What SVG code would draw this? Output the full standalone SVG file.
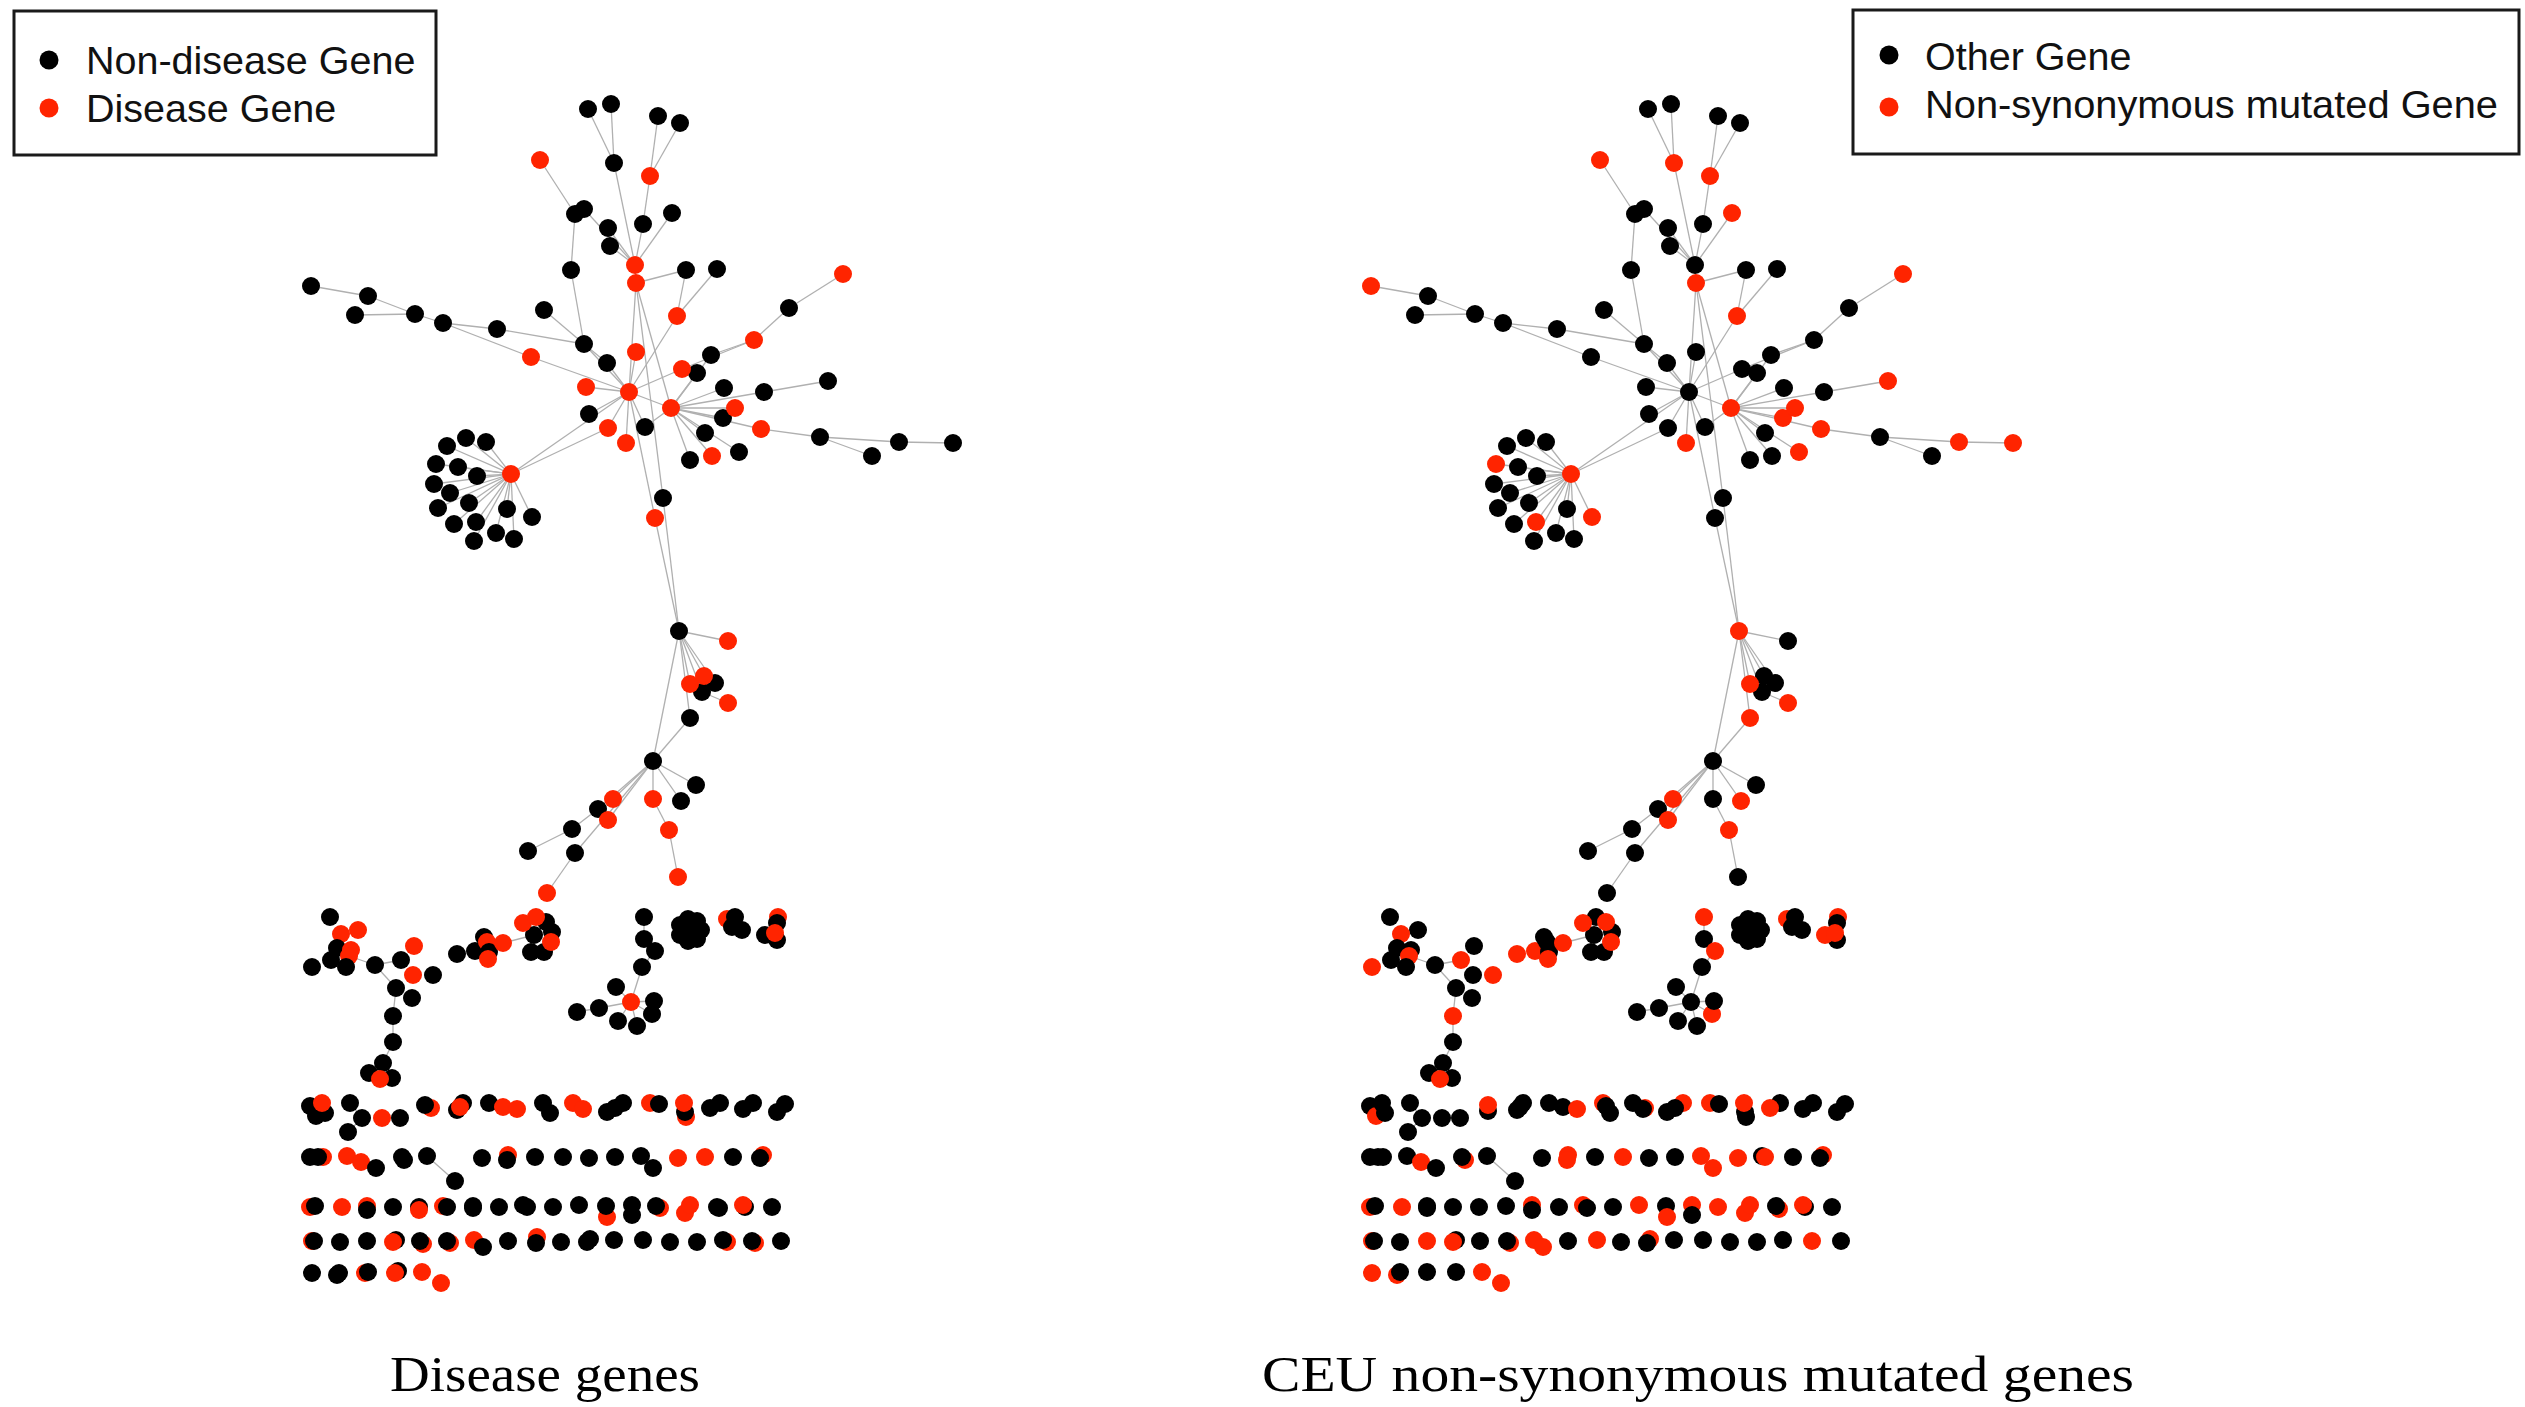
<svg xmlns="http://www.w3.org/2000/svg" xmlns:xlink="http://www.w3.org/1999/xlink" width="2525" height="1407" viewBox="0 0 2525 1407">
<style>
.b{fill:#000}
.r{fill:#ff2400}
circle{stroke:none}
#edges line{stroke:#b0b0b0;stroke-width:1.3}
.leg{fill:#fff;stroke:#1a1a1a;stroke-width:3}
.lt{font-family:"Liberation Sans",Arial,sans-serif;font-size:39.5px;fill:#111}
.cap{font-family:"Liberation Serif","DejaVu Serif",serif;font-size:50px;fill:#000}
</style>
<defs>
<g id="edges">
<line x1="588" y1="109" x2="614" y2="163"/><line x1="611" y1="104" x2="614" y2="163"/><line x1="614" y1="163" x2="635" y2="265"/>
<line x1="658" y1="116" x2="650" y2="176"/><line x1="680" y1="123" x2="650" y2="176"/><line x1="650" y1="176" x2="643" y2="224"/>
<line x1="643" y1="224" x2="635" y2="265"/><line x1="672" y1="213" x2="635" y2="265"/><line x1="540" y1="160" x2="575" y2="214"/>
<line x1="584" y1="209" x2="635" y2="265"/><line x1="608" y1="228" x2="635" y2="265"/><line x1="610" y1="246" x2="635" y2="265"/>
<line x1="575" y1="214" x2="571" y2="270"/><line x1="571" y1="270" x2="584" y2="344"/><line x1="635" y1="265" x2="636" y2="283"/>
<line x1="636" y1="283" x2="686" y2="270"/><line x1="717" y1="269" x2="677" y2="316"/><line x1="686" y1="270" x2="677" y2="316"/>
<line x1="677" y1="316" x2="629" y2="392"/><line x1="636" y1="283" x2="629" y2="392"/><line x1="636" y1="283" x2="671" y2="408"/>
<line x1="843" y1="274" x2="789" y2="308"/><line x1="789" y1="308" x2="754" y2="340"/><line x1="754" y1="340" x2="711" y2="355"/>
<line x1="711" y1="355" x2="671" y2="408"/><line x1="754" y1="340" x2="682" y2="369"/><line x1="682" y1="369" x2="629" y2="392"/>
<line x1="697" y1="373" x2="671" y2="408"/><line x1="311" y1="286" x2="368" y2="296"/><line x1="368" y1="296" x2="415" y2="314"/>
<line x1="355" y1="315" x2="415" y2="314"/><line x1="415" y1="314" x2="443" y2="323"/><line x1="443" y1="323" x2="497" y2="329"/>
<line x1="497" y1="329" x2="584" y2="344"/><line x1="443" y1="323" x2="531" y2="357"/><line x1="531" y1="357" x2="629" y2="392"/>
<line x1="544" y1="310" x2="584" y2="344"/><line x1="584" y1="344" x2="607" y2="363"/><line x1="607" y1="363" x2="629" y2="392"/>
<line x1="584" y1="344" x2="629" y2="392"/><line x1="636" y1="352" x2="629" y2="392"/><line x1="586" y1="387" x2="629" y2="392"/>
<line x1="828" y1="381" x2="764" y2="392"/><line x1="764" y1="392" x2="671" y2="408"/><line x1="724" y1="388" x2="671" y2="408"/>
<line x1="629" y1="392" x2="671" y2="408"/><line x1="671" y1="408" x2="735" y2="408"/><line x1="671" y1="408" x2="723" y2="418"/>
<line x1="671" y1="408" x2="761" y2="429"/><line x1="671" y1="408" x2="705" y2="433"/><line x1="671" y1="408" x2="739" y2="452"/>
<line x1="671" y1="408" x2="712" y2="456"/><line x1="671" y1="408" x2="690" y2="460"/><line x1="671" y1="408" x2="645" y2="427"/>
<line x1="761" y1="429" x2="820" y2="437"/><line x1="820" y1="437" x2="899" y2="442"/><line x1="899" y1="442" x2="953" y2="443"/>
<line x1="820" y1="437" x2="872" y2="456"/><line x1="629" y1="392" x2="589" y2="414"/><line x1="629" y1="392" x2="608" y2="428"/>
<line x1="629" y1="392" x2="626" y2="443"/><line x1="629" y1="392" x2="645" y2="427"/><line x1="511" y1="474" x2="629" y2="392"/>
<line x1="511" y1="474" x2="608" y2="428"/>
<line x1="511" y1="474" x2="466" y2="438"/><line x1="511" y1="474" x2="486" y2="442"/><line x1="511" y1="474" x2="447" y2="446"/>
<line x1="511" y1="474" x2="436" y2="464"/><line x1="511" y1="474" x2="458" y2="467"/><line x1="511" y1="474" x2="477" y2="476"/>
<line x1="511" y1="474" x2="434" y2="484"/><line x1="511" y1="474" x2="450" y2="493"/><line x1="511" y1="474" x2="469" y2="503"/>
<line x1="511" y1="474" x2="507" y2="509"/><line x1="511" y1="474" x2="532" y2="517"/><line x1="511" y1="474" x2="438" y2="508"/>
<line x1="511" y1="474" x2="454" y2="524"/><line x1="511" y1="474" x2="476" y2="522"/><line x1="511" y1="474" x2="496" y2="533"/>
<line x1="511" y1="474" x2="514" y2="539"/><line x1="511" y1="474" x2="474" y2="541"/>
<line x1="636" y1="283" x2="663" y2="498"/><line x1="629" y1="392" x2="655" y2="518"/>
<line x1="663" y1="498" x2="679" y2="631"/><line x1="655" y1="518" x2="679" y2="631"/>
<line x1="679" y1="631" x2="728" y2="641"/><line x1="679" y1="631" x2="690" y2="684"/><line x1="679" y1="631" x2="704" y2="676"/>
<line x1="679" y1="631" x2="715" y2="683"/><line x1="679" y1="631" x2="702" y2="692"/><line x1="702" y1="692" x2="728" y2="703"/>
<line x1="679" y1="631" x2="690" y2="718"/><line x1="690" y1="718" x2="653" y2="761"/><line x1="679" y1="631" x2="653" y2="761"/>
<line x1="653" y1="761" x2="696" y2="785"/><line x1="653" y1="761" x2="681" y2="801"/><line x1="653" y1="761" x2="653" y2="799"/>
<line x1="653" y1="761" x2="613" y2="799"/><line x1="653" y1="761" x2="598" y2="809"/><line x1="653" y1="761" x2="608" y2="820"/>
<line x1="653" y1="761" x2="575" y2="853"/><line x1="598" y1="809" x2="572" y2="829"/><line x1="572" y1="829" x2="528" y2="851"/>
<line x1="575" y1="853" x2="547" y2="893"/><line x1="653" y1="799" x2="669" y2="830"/><line x1="669" y1="830" x2="678" y2="877"/>
<line x1="503" y1="943" x2="534" y2="935"/>
<line x1="349" y1="956" x2="375" y2="965"/><line x1="375" y1="965" x2="401" y2="960"/><line x1="375" y1="965" x2="396" y2="988"/>
<line x1="396" y1="988" x2="412" y2="998"/><line x1="396" y1="988" x2="393" y2="1016"/><line x1="393" y1="1016" x2="393" y2="1042"/>
<line x1="393" y1="1042" x2="383" y2="1063"/>
<line x1="644" y1="917" x2="644" y2="939"/><line x1="644" y1="939" x2="655" y2="951"/><line x1="655" y1="951" x2="642" y2="967"/>
<line x1="642" y1="967" x2="631" y2="1002"/><line x1="631" y1="1002" x2="616" y2="987"/><line x1="631" y1="1002" x2="599" y2="1008"/>
<line x1="599" y1="1008" x2="577" y2="1012"/><line x1="631" y1="1002" x2="654" y2="1001"/><line x1="631" y1="1002" x2="652" y2="1014"/>
<line x1="631" y1="1002" x2="618" y2="1021"/><line x1="631" y1="1002" x2="637" y2="1026"/>
<line x1="350" y1="1103" x2="362" y2="1118"/><line x1="362" y1="1118" x2="348" y2="1132"/><line x1="427" y1="1156" x2="455" y2="1181"/>
</g>
</defs>

<g id="connectors">
<use xlink:href="#edges" href="#edges"/>
<use xlink:href="#edges" href="#edges" x="1060"/>
</g>

<g id="legend-left">
<rect class="leg" x="14" y="11" width="422" height="144"/>
<circle class="b" cx="49" cy="60" r="9.5"/>
<text class="lt" x="86" y="74">Non-disease Gene</text>
<circle class="r" cx="49" cy="108" r="9.5"/>
<text class="lt" x="86" y="122">Disease Gene</text>
</g>

<g id="legend-right">
<rect class="leg" x="1853" y="10" width="666" height="144"/>
<circle class="b" cx="1889" cy="55" r="9.5"/>
<text class="lt" x="1925" y="70">Other Gene</text>
<circle class="r" cx="1889" cy="107" r="9.5"/>
<text class="lt" x="1925" y="118" textLength="573" lengthAdjust="spacingAndGlyphs">Non-synonymous mutated Gene</text>
</g>

<g id="nodes-left">
<g id="L-top">
<circle class="b" cx="588" cy="109" r="9"/><circle class="b" cx="611" cy="104" r="9"/><circle class="b" cx="658" cy="116" r="9"/><circle class="b" cx="680" cy="123" r="9"/>
<circle class="r" cx="540" cy="160" r="9"/><circle class="b" cx="614" cy="163" r="9"/><circle class="r" cx="650" cy="176" r="9"/>
<circle class="b" cx="575" cy="214" r="9"/><circle class="b" cx="584" cy="209" r="9"/><circle class="b" cx="672" cy="213" r="9"/>
<circle class="b" cx="608" cy="228" r="9"/><circle class="b" cx="643" cy="224" r="9"/><circle class="b" cx="610" cy="246" r="9"/>
<circle class="r" cx="635" cy="265" r="9"/><circle class="r" cx="636" cy="283" r="9"/><circle class="b" cx="571" cy="270" r="9"/>
<circle class="b" cx="686" cy="270" r="9"/><circle class="b" cx="717" cy="269" r="9"/><circle class="r" cx="843" cy="274" r="9"/>
<circle class="b" cx="311" cy="286" r="9"/><circle class="b" cx="368" cy="296" r="9"/><circle class="b" cx="355" cy="315" r="9"/>
<circle class="b" cx="415" cy="314" r="9"/><circle class="b" cx="443" cy="323" r="9"/><circle class="b" cx="497" cy="329" r="9"/>
<circle class="b" cx="544" cy="310" r="9"/><circle class="r" cx="677" cy="316" r="9"/><circle class="b" cx="789" cy="308" r="9"/>
<circle class="r" cx="754" cy="340" r="9"/><circle class="b" cx="584" cy="344" r="9"/><circle class="r" cx="636" cy="352" r="9"/>
<circle class="r" cx="531" cy="357" r="9"/><circle class="b" cx="607" cy="363" r="9"/><circle class="b" cx="711" cy="355" r="9"/>
<circle class="b" cx="697" cy="373" r="9"/><circle class="r" cx="682" cy="369" r="9"/><circle class="b" cx="828" cy="381" r="9"/>
<circle class="r" cx="586" cy="387" r="9"/><circle class="r" cx="629" cy="392" r="9"/><circle class="b" cx="724" cy="388" r="9"/>
<circle class="b" cx="764" cy="392" r="9"/><circle class="r" cx="671" cy="408" r="9"/><circle class="b" cx="723" cy="418" r="9"/>
<circle class="r" cx="735" cy="408" r="9"/><circle class="b" cx="589" cy="414" r="9"/><circle class="r" cx="608" cy="428" r="9"/>
<circle class="b" cx="645" cy="427" r="9"/><circle class="r" cx="761" cy="429" r="9"/><circle class="b" cx="820" cy="437" r="9"/>
<circle class="b" cx="899" cy="442" r="9"/><circle class="b" cx="953" cy="443" r="9"/><circle class="b" cx="872" cy="456" r="9"/>
<circle class="r" cx="626" cy="443" r="9"/><circle class="b" cx="705" cy="433" r="9"/><circle class="b" cx="739" cy="452" r="9"/>
<circle class="r" cx="712" cy="456" r="9"/><circle class="b" cx="690" cy="460" r="9"/>
<circle class="b" cx="466" cy="438" r="9"/><circle class="b" cx="486" cy="442" r="9"/><circle class="b" cx="447" cy="446" r="9"/>
<circle class="b" cx="436" cy="464" r="9"/><circle class="b" cx="458" cy="467" r="9"/><circle class="b" cx="477" cy="476" r="9"/>
<circle class="b" cx="434" cy="484" r="9"/><circle class="b" cx="450" cy="493" r="9"/><circle class="b" cx="469" cy="503" r="9"/>
<circle class="b" cx="507" cy="509" r="9"/><circle class="b" cx="532" cy="517" r="9"/><circle class="b" cx="438" cy="508" r="9"/>
<circle class="b" cx="454" cy="524" r="9"/><circle class="b" cx="476" cy="522" r="9"/><circle class="b" cx="496" cy="533" r="9"/>
<circle class="b" cx="514" cy="539" r="9"/><circle class="b" cx="474" cy="541" r="9"/><circle class="r" cx="511" cy="474" r="9"/>
<circle class="b" cx="663" cy="498" r="9"/><circle class="r" cx="655" cy="518" r="9"/>
</g>
<g id="L-mid">
<circle class="b" cx="679" cy="631" r="9"/><circle class="r" cx="728" cy="641" r="9"/><circle class="b" cx="715" cy="683" r="9"/>
<circle class="b" cx="702" cy="692" r="9"/><circle class="r" cx="690" cy="684" r="9"/><circle class="r" cx="704" cy="676" r="9"/>
<circle class="r" cx="728" cy="703" r="9"/><circle class="b" cx="690" cy="718" r="9"/><circle class="b" cx="653" cy="761" r="9"/>
<circle class="b" cx="696" cy="785" r="9"/><circle class="b" cx="681" cy="801" r="9"/><circle class="r" cx="653" cy="799" r="9"/>
<circle class="r" cx="613" cy="799" r="9"/><circle class="b" cx="598" cy="809" r="9"/><circle class="r" cx="608" cy="820" r="9"/>
<circle class="b" cx="572" cy="829" r="9"/><circle class="b" cx="528" cy="851" r="9"/><circle class="b" cx="575" cy="853" r="9"/>
<circle class="r" cx="669" cy="830" r="9"/><circle class="r" cx="678" cy="877" r="9"/><circle class="r" cx="547" cy="893" r="9"/>
</g>
<g id="L-low">
<circle class="b" cx="330" cy="917" r="9"/><circle class="r" cx="341" cy="934" r="9"/><circle class="r" cx="358" cy="930" r="9"/>
<circle class="b" cx="337" cy="948" r="9"/><circle class="b" cx="331" cy="960" r="9"/><circle class="r" cx="351" cy="950" r="9"/>
<circle class="r" cx="349" cy="956" r="9"/><circle class="b" cx="312" cy="967" r="9"/><circle class="b" cx="346" cy="967" r="9"/>
<circle class="b" cx="375" cy="965" r="9"/><circle class="b" cx="401" cy="960" r="9"/><circle class="r" cx="414" cy="946" r="9"/>
<circle class="r" cx="413" cy="975" r="9"/><circle class="b" cx="433" cy="975" r="9"/><circle class="b" cx="396" cy="988" r="9"/>
<circle class="b" cx="412" cy="998" r="9"/><circle class="b" cx="393" cy="1016" r="9"/><circle class="b" cx="393" cy="1042" r="9"/>
<circle class="b" cx="383" cy="1063" r="9"/><circle class="b" cx="369" cy="1073" r="9"/><circle class="b" cx="392" cy="1078" r="9"/>
<circle class="r" cx="380" cy="1079" r="9"/>
<circle class="b" cx="457" cy="954" r="9"/><circle class="b" cx="475" cy="951" r="9"/><circle class="b" cx="484" cy="937" r="9"/>
<circle class="r" cx="487" cy="942" r="9"/><circle class="b" cx="489" cy="952" r="9"/><circle class="r" cx="488" cy="959" r="9"/>
<circle class="r" cx="503" cy="943" r="9"/><circle class="b" cx="546" cy="922" r="9"/><circle class="b" cx="552" cy="932" r="9"/>
<circle class="b" cx="534" cy="935" r="9"/><circle class="b" cx="531" cy="952" r="9"/><circle class="b" cx="544" cy="952" r="9"/>
<circle class="r" cx="551" cy="942" r="9"/><circle class="r" cx="523" cy="923" r="9"/><circle class="r" cx="536" cy="917" r="9"/>
<circle class="b" cx="644" cy="917" r="9"/><circle class="b" cx="644" cy="939" r="9"/><circle class="b" cx="655" cy="951" r="9"/>
<circle class="b" cx="642" cy="967" r="9"/><circle class="b" cx="616" cy="987" r="9"/><circle class="b" cx="599" cy="1008" r="9"/>
<circle class="b" cx="577" cy="1012" r="9"/><circle class="b" cx="654" cy="1001" r="9"/><circle class="b" cx="652" cy="1014" r="9"/>
<circle class="b" cx="618" cy="1021" r="9"/><circle class="b" cx="637" cy="1026" r="9"/><circle class="r" cx="631" cy="1002" r="9"/>
<circle class="b" cx="690" cy="930" r="9"/><circle class="b" cx="701" cy="930" r="9"/><circle class="b" cx="697" cy="939" r="9"/>
<circle class="b" cx="688" cy="941" r="9"/><circle class="b" cx="680" cy="935" r="9"/><circle class="b" cx="680" cy="925" r="9"/>
<circle class="b" cx="688" cy="919" r="9"/><circle class="b" cx="697" cy="921" r="9"/>
<circle class="r" cx="727" cy="919" r="9"/><circle class="b" cx="735" cy="917" r="9"/><circle class="b" cx="732" cy="927" r="9"/><circle class="b" cx="742" cy="930" r="9"/>
<circle class="r" cx="778" cy="917" r="9"/><circle class="b" cx="777" cy="923" r="9"/><circle class="b" cx="777" cy="940" r="9"/><circle class="b" cx="765" cy="935" r="9"/><circle class="r" cx="775" cy="933" r="9"/>
</g>
<g id="L-rows">
<circle class="b" cx="310" cy="1106" r="9"/><circle class="b" cx="316" cy="1116" r="9"/><circle class="b" cx="325" cy="1113" r="9"/><circle class="r" cx="322" cy="1103" r="9"/>
<circle class="b" cx="350" cy="1103" r="9"/><circle class="b" cx="362" cy="1118" r="9"/><circle class="b" cx="348" cy="1132" r="9"/>
<circle class="r" cx="382" cy="1118" r="9"/><circle class="b" cx="400" cy="1118" r="9"/>
<circle class="r" cx="431" cy="1108" r="9"/><circle class="b" cx="425" cy="1105" r="9"/>
<circle class="b" cx="457" cy="1110" r="9"/><circle class="b" cx="463" cy="1103" r="9"/><circle class="r" cx="460" cy="1107" r="9"/>
<circle class="b" cx="489" cy="1103" r="9"/><circle class="r" cx="503" cy="1107" r="9"/><circle class="r" cx="517" cy="1109" r="9"/>
<circle class="b" cx="543" cy="1103" r="9"/><circle class="b" cx="550" cy="1113" r="9"/>
<circle class="r" cx="573" cy="1103" r="9"/><circle class="r" cx="583" cy="1109" r="9"/>
<circle class="b" cx="607" cy="1112" r="9"/><circle class="b" cx="615" cy="1108" r="9"/><circle class="b" cx="623" cy="1103" r="9"/>
<circle class="r" cx="650" cy="1103" r="9"/><circle class="b" cx="659" cy="1104" r="9"/>
<circle class="r" cx="686" cy="1117" r="9"/><circle class="b" cx="685" cy="1112" r="9"/><circle class="r" cx="684" cy="1103" r="9"/>
<circle class="b" cx="710" cy="1108" r="9"/><circle class="b" cx="720" cy="1103" r="9"/>
<circle class="b" cx="743" cy="1109" r="9"/><circle class="b" cx="753" cy="1103" r="9"/>
<circle class="b" cx="777" cy="1112" r="9"/><circle class="b" cx="785" cy="1104" r="9"/>

<circle class="r" cx="323" cy="1157" r="9"/><circle class="b" cx="310" cy="1157" r="9"/><circle class="b" cx="318" cy="1157" r="9"/>
<circle class="r" cx="347" cy="1156" r="9"/><circle class="r" cx="361" cy="1162" r="9"/><circle class="b" cx="376" cy="1168" r="9"/>
<circle class="b" cx="404" cy="1160" r="9"/><circle class="b" cx="402" cy="1157" r="9"/><circle class="b" cx="427" cy="1156" r="9"/>
<circle class="b" cx="455" cy="1181" r="9"/><circle class="b" cx="482" cy="1158" r="9"/>
<circle class="r" cx="508" cy="1155" r="9"/><circle class="b" cx="507" cy="1160" r="9"/>
<circle class="b" cx="535" cy="1157" r="9"/><circle class="b" cx="563" cy="1157" r="9"/><circle class="b" cx="589" cy="1158" r="9"/>
<circle class="b" cx="615" cy="1157" r="9"/><circle class="b" cx="641" cy="1156" r="9"/><circle class="b" cx="653" cy="1168" r="9"/>
<circle class="r" cx="678" cy="1158" r="9"/><circle class="r" cx="705" cy="1157" r="9"/><circle class="b" cx="733" cy="1157" r="9"/>
<circle class="r" cx="763" cy="1155" r="9"/><circle class="b" cx="760" cy="1158" r="9"/>

<circle class="r" cx="310" cy="1207" r="9"/><circle class="b" cx="315" cy="1206" r="9"/>
<circle class="r" cx="342" cy="1207" r="9"/>
<circle class="r" cx="367" cy="1206" r="9"/><circle class="b" cx="367" cy="1210" r="9"/>
<circle class="b" cx="393" cy="1207" r="9"/>
<circle class="b" cx="419" cy="1207" r="9"/><circle class="r" cx="419" cy="1210" r="9"/>
<circle class="r" cx="443" cy="1206" r="9"/><circle class="b" cx="447" cy="1207" r="9"/>
<circle class="b" cx="473" cy="1206" r="9"/><circle class="b" cx="473" cy="1208" r="9"/>
<circle class="b" cx="499" cy="1207" r="9"/><circle class="b" cx="523" cy="1205" r="9"/><circle class="b" cx="527" cy="1207" r="9"/>
<circle class="b" cx="553" cy="1207" r="9"/><circle class="b" cx="579" cy="1205" r="9"/>
<circle class="r" cx="607" cy="1217" r="9"/><circle class="b" cx="606" cy="1206" r="9"/>
<circle class="b" cx="632" cy="1205" r="9"/><circle class="b" cx="632" cy="1215" r="9"/>
<circle class="r" cx="660" cy="1208" r="9"/><circle class="b" cx="656" cy="1206" r="9"/>
<circle class="r" cx="685" cy="1213" r="9"/><circle class="r" cx="690" cy="1205" r="9"/>
<circle class="b" cx="719" cy="1208" r="9"/><circle class="b" cx="717" cy="1207" r="9"/>
<circle class="b" cx="745" cy="1207" r="9"/><circle class="r" cx="743" cy="1205" r="9"/>
<circle class="b" cx="772" cy="1207" r="9"/>

<circle class="r" cx="312" cy="1241" r="9"/><circle class="b" cx="314" cy="1241" r="9"/>
<circle class="b" cx="340" cy="1242" r="9"/><circle class="b" cx="367" cy="1241" r="9"/>
<circle class="b" cx="396" cy="1240" r="9"/><circle class="r" cx="393" cy="1242" r="9"/>
<circle class="r" cx="423" cy="1244" r="9"/><circle class="b" cx="420" cy="1241" r="9"/>
<circle class="r" cx="450" cy="1243" r="9"/><circle class="b" cx="447" cy="1241" r="9"/>
<circle class="r" cx="474" cy="1240" r="9"/><circle class="b" cx="483" cy="1247" r="9"/>
<circle class="b" cx="508" cy="1241" r="9"/>
<circle class="r" cx="537" cy="1237" r="9"/><circle class="b" cx="536" cy="1243" r="9"/>
<circle class="b" cx="561" cy="1242" r="9"/><circle class="b" cx="590" cy="1239" r="9"/><circle class="b" cx="587" cy="1242" r="9"/>
<circle class="b" cx="614" cy="1240" r="9"/><circle class="b" cx="643" cy="1240" r="9"/><circle class="b" cx="670" cy="1242" r="9"/>
<circle class="b" cx="697" cy="1242" r="9"/>
<circle class="r" cx="727" cy="1242" r="9"/><circle class="b" cx="723" cy="1240" r="9"/>
<circle class="r" cx="755" cy="1243" r="9"/><circle class="b" cx="752" cy="1241" r="9"/>
<circle class="b" cx="781" cy="1241" r="9"/>

<circle class="b" cx="312" cy="1273" r="9"/><circle class="b" cx="337" cy="1275" r="9"/><circle class="b" cx="339" cy="1273" r="9"/>
<circle class="r" cx="365" cy="1273" r="9"/><circle class="b" cx="368" cy="1272" r="9"/>
<circle class="b" cx="398" cy="1271" r="9"/><circle class="r" cx="395" cy="1273" r="9"/>
<circle class="r" cx="422" cy="1272" r="9"/><circle class="r" cx="441" cy="1283" r="9"/>
</g>
</g>

<g id="nodes-right" transform="translate(1060 0)">
<g id="R-top">
<circle class="b" cx="588" cy="109" r="9"/><circle class="b" cx="611" cy="104" r="9"/><circle class="b" cx="658" cy="116" r="9"/><circle class="b" cx="680" cy="123" r="9"/>
<circle class="r" cx="540" cy="160" r="9"/><circle class="r" cx="614" cy="163" r="9"/><circle class="r" cx="650" cy="176" r="9"/>
<circle class="b" cx="575" cy="214" r="9"/><circle class="b" cx="584" cy="209" r="9"/><circle class="r" cx="672" cy="213" r="9"/>
<circle class="b" cx="608" cy="228" r="9"/><circle class="b" cx="643" cy="224" r="9"/><circle class="b" cx="610" cy="246" r="9"/>
<circle class="b" cx="635" cy="265" r="9"/><circle class="r" cx="636" cy="283" r="9"/><circle class="b" cx="571" cy="270" r="9"/>
<circle class="b" cx="686" cy="270" r="9"/><circle class="b" cx="717" cy="269" r="9"/><circle class="r" cx="843" cy="274" r="9"/>
<circle class="r" cx="311" cy="286" r="9"/><circle class="b" cx="368" cy="296" r="9"/><circle class="b" cx="355" cy="315" r="9"/>
<circle class="b" cx="415" cy="314" r="9"/><circle class="b" cx="443" cy="323" r="9"/><circle class="b" cx="497" cy="329" r="9"/>
<circle class="b" cx="544" cy="310" r="9"/><circle class="r" cx="677" cy="316" r="9"/><circle class="b" cx="789" cy="308" r="9"/>
<circle class="b" cx="754" cy="340" r="9"/><circle class="b" cx="584" cy="344" r="9"/><circle class="b" cx="636" cy="352" r="9"/>
<circle class="b" cx="531" cy="357" r="9"/><circle class="b" cx="607" cy="363" r="9"/><circle class="b" cx="711" cy="355" r="9"/>
<circle class="b" cx="697" cy="373" r="9"/><circle class="b" cx="682" cy="369" r="9"/><circle class="r" cx="828" cy="381" r="9"/>
<circle class="b" cx="586" cy="387" r="9"/><circle class="b" cx="629" cy="392" r="9"/><circle class="b" cx="724" cy="388" r="9"/>
<circle class="b" cx="764" cy="392" r="9"/><circle class="r" cx="671" cy="408" r="9"/><circle class="r" cx="723" cy="418" r="9"/>
<circle class="r" cx="735" cy="408" r="9"/><circle class="b" cx="589" cy="414" r="9"/><circle class="b" cx="608" cy="428" r="9"/>
<circle class="b" cx="645" cy="427" r="9"/><circle class="r" cx="761" cy="429" r="9"/><circle class="b" cx="820" cy="437" r="9"/>
<circle class="r" cx="899" cy="442" r="9"/><circle class="r" cx="953" cy="443" r="9"/><circle class="b" cx="872" cy="456" r="9"/>
<circle class="r" cx="626" cy="443" r="9"/><circle class="b" cx="705" cy="433" r="9"/><circle class="r" cx="739" cy="452" r="9"/>
<circle class="b" cx="712" cy="456" r="9"/><circle class="b" cx="690" cy="460" r="9"/>
<circle class="b" cx="466" cy="438" r="9"/><circle class="b" cx="486" cy="442" r="9"/><circle class="b" cx="447" cy="446" r="9"/>
<circle class="r" cx="436" cy="464" r="9"/><circle class="b" cx="458" cy="467" r="9"/><circle class="b" cx="477" cy="476" r="9"/>
<circle class="b" cx="434" cy="484" r="9"/><circle class="b" cx="450" cy="493" r="9"/><circle class="b" cx="469" cy="503" r="9"/>
<circle class="b" cx="507" cy="509" r="9"/><circle class="r" cx="532" cy="517" r="9"/><circle class="b" cx="438" cy="508" r="9"/>
<circle class="b" cx="454" cy="524" r="9"/><circle class="r" cx="476" cy="522" r="9"/><circle class="b" cx="496" cy="533" r="9"/>
<circle class="b" cx="514" cy="539" r="9"/><circle class="b" cx="474" cy="541" r="9"/><circle class="r" cx="511" cy="474" r="9"/>
<circle class="b" cx="663" cy="498" r="9"/><circle class="b" cx="655" cy="518" r="9"/>
</g>
<g id="R-mid">
<circle class="r" cx="679" cy="631" r="9"/><circle class="b" cx="728" cy="641" r="9"/><circle class="b" cx="715" cy="683" r="9"/>
<circle class="b" cx="702" cy="692" r="9"/><circle class="b" cx="704" cy="676" r="9"/><circle class="r" cx="690" cy="684" r="9"/>
<circle class="r" cx="728" cy="703" r="9"/><circle class="r" cx="690" cy="718" r="9"/><circle class="b" cx="653" cy="761" r="9"/>
<circle class="b" cx="696" cy="785" r="9"/><circle class="r" cx="681" cy="801" r="9"/><circle class="b" cx="653" cy="799" r="9"/>
<circle class="r" cx="613" cy="799" r="9"/><circle class="b" cx="598" cy="809" r="9"/><circle class="r" cx="608" cy="820" r="9"/>
<circle class="b" cx="572" cy="829" r="9"/><circle class="b" cx="528" cy="851" r="9"/><circle class="b" cx="575" cy="853" r="9"/>
<circle class="r" cx="669" cy="830" r="9"/><circle class="b" cx="678" cy="877" r="9"/><circle class="b" cx="547" cy="893" r="9"/>
</g>
<g id="R-low">
<circle class="b" cx="330" cy="917" r="9"/><circle class="b" cx="358" cy="930" r="9"/><circle class="r" cx="341" cy="934" r="9"/>
<circle class="b" cx="337" cy="948" r="9"/><circle class="b" cx="331" cy="960" r="9"/><circle class="b" cx="351" cy="950" r="9"/>
<circle class="r" cx="349" cy="956" r="9"/><circle class="r" cx="312" cy="967" r="9"/><circle class="b" cx="346" cy="967" r="9"/>
<circle class="b" cx="375" cy="965" r="9"/><circle class="r" cx="401" cy="960" r="9"/><circle class="b" cx="414" cy="946" r="9"/>
<circle class="b" cx="413" cy="975" r="9"/><circle class="r" cx="433" cy="975" r="9"/><circle class="b" cx="396" cy="988" r="9"/>
<circle class="b" cx="412" cy="998" r="9"/><circle class="r" cx="393" cy="1016" r="9"/><circle class="b" cx="393" cy="1042" r="9"/>
<circle class="b" cx="383" cy="1063" r="9"/><circle class="b" cx="369" cy="1073" r="9"/><circle class="b" cx="392" cy="1078" r="9"/>
<circle class="r" cx="380" cy="1079" r="9"/>
<circle class="r" cx="457" cy="954" r="9"/><circle class="r" cx="475" cy="951" r="9"/><circle class="b" cx="484" cy="937" r="9"/>
<circle class="b" cx="487" cy="942" r="9"/><circle class="b" cx="489" cy="952" r="9"/><circle class="r" cx="488" cy="959" r="9"/>
<circle class="r" cx="503" cy="943" r="9"/><circle class="b" cx="552" cy="932" r="9"/>
<circle class="b" cx="534" cy="935" r="9"/><circle class="b" cx="531" cy="952" r="9"/><circle class="b" cx="544" cy="952" r="9"/>
<circle class="r" cx="551" cy="942" r="9"/><circle class="b" cx="536" cy="917" r="9"/><circle class="r" cx="523" cy="923" r="9"/><circle class="r" cx="546" cy="922" r="9"/>
<circle class="r" cx="644" cy="917" r="9"/><circle class="b" cx="644" cy="939" r="9"/><circle class="r" cx="655" cy="951" r="9"/>
<circle class="b" cx="642" cy="967" r="9"/><circle class="b" cx="616" cy="987" r="9"/><circle class="b" cx="599" cy="1008" r="9"/>
<circle class="b" cx="577" cy="1012" r="9"/><circle class="r" cx="652" cy="1014" r="9"/><circle class="b" cx="654" cy="1001" r="9"/>
<circle class="b" cx="618" cy="1021" r="9"/><circle class="b" cx="637" cy="1026" r="9"/><circle class="b" cx="631" cy="1002" r="9"/>
<circle class="b" cx="690" cy="930" r="9"/><circle class="b" cx="701" cy="930" r="9"/><circle class="b" cx="697" cy="939" r="9"/>
<circle class="b" cx="688" cy="941" r="9"/><circle class="b" cx="680" cy="935" r="9"/><circle class="b" cx="680" cy="925" r="9"/>
<circle class="b" cx="688" cy="919" r="9"/><circle class="b" cx="697" cy="921" r="9"/>
<circle class="r" cx="727" cy="919" r="9"/><circle class="b" cx="735" cy="917" r="9"/><circle class="b" cx="732" cy="927" r="9"/><circle class="b" cx="742" cy="930" r="9"/>
<circle class="b" cx="777" cy="940" r="9"/><circle class="r" cx="778" cy="917" r="9"/><circle class="b" cx="777" cy="923" r="9"/><circle class="r" cx="765" cy="935" r="9"/><circle class="r" cx="775" cy="933" r="9"/>
</g>
<g id="R-rows">
<circle class="b" cx="310" cy="1106" r="9"/><circle class="r" cx="316" cy="1116" r="9"/><circle class="b" cx="325" cy="1113" r="9"/><circle class="b" cx="322" cy="1103" r="9"/>
<circle class="b" cx="350" cy="1103" r="9"/><circle class="b" cx="362" cy="1118" r="9"/><circle class="b" cx="348" cy="1132" r="9"/>
<circle class="b" cx="382" cy="1118" r="9"/><circle class="b" cx="400" cy="1118" r="9"/>
<circle class="b" cx="428" cy="1111" r="9"/><circle class="r" cx="428" cy="1105" r="9"/>
<circle class="b" cx="457" cy="1110" r="9"/><circle class="b" cx="463" cy="1103" r="9"/><circle class="b" cx="460" cy="1107" r="9"/>
<circle class="b" cx="489" cy="1103" r="9"/><circle class="b" cx="503" cy="1107" r="9"/><circle class="r" cx="517" cy="1109" r="9"/>
<circle class="r" cx="543" cy="1103" r="9"/><circle class="b" cx="546" cy="1106" r="9"/><circle class="b" cx="550" cy="1113" r="9"/>
<circle class="r" cx="585" cy="1108" r="9"/><circle class="b" cx="573" cy="1103" r="9"/><circle class="b" cx="583" cy="1109" r="9"/>
<circle class="r" cx="623" cy="1103" r="9"/><circle class="b" cx="607" cy="1112" r="9"/><circle class="b" cx="615" cy="1108" r="9"/>
<circle class="r" cx="650" cy="1103" r="9"/><circle class="b" cx="659" cy="1104" r="9"/>
<circle class="b" cx="686" cy="1117" r="9"/><circle class="b" cx="685" cy="1112" r="9"/><circle class="r" cx="684" cy="1103" r="9"/>
<circle class="b" cx="720" cy="1103" r="9"/><circle class="r" cx="710" cy="1108" r="9"/>
<circle class="b" cx="743" cy="1109" r="9"/><circle class="b" cx="753" cy="1103" r="9"/>
<circle class="b" cx="777" cy="1112" r="9"/><circle class="b" cx="785" cy="1104" r="9"/>

<circle class="b" cx="323" cy="1157" r="9"/><circle class="b" cx="310" cy="1157" r="9"/><circle class="b" cx="318" cy="1157" r="9"/>
<circle class="b" cx="347" cy="1156" r="9"/><circle class="r" cx="361" cy="1162" r="9"/><circle class="b" cx="376" cy="1168" r="9"/>
<circle class="r" cx="405" cy="1160" r="9"/><circle class="b" cx="402" cy="1157" r="9"/><circle class="b" cx="427" cy="1156" r="9"/>
<circle class="b" cx="455" cy="1181" r="9"/><circle class="b" cx="482" cy="1158" r="9"/>
<circle class="r" cx="508" cy="1155" r="9"/><circle class="r" cx="507" cy="1160" r="9"/>
<circle class="b" cx="535" cy="1157" r="9"/><circle class="r" cx="563" cy="1157" r="9"/><circle class="b" cx="589" cy="1158" r="9"/>
<circle class="b" cx="615" cy="1157" r="9"/><circle class="r" cx="641" cy="1156" r="9"/><circle class="r" cx="653" cy="1168" r="9"/>
<circle class="r" cx="678" cy="1158" r="9"/><circle class="b" cx="702" cy="1156" r="9"/><circle class="r" cx="705" cy="1157" r="9"/><circle class="b" cx="733" cy="1157" r="9"/>
<circle class="r" cx="763" cy="1155" r="9"/><circle class="b" cx="760" cy="1158" r="9"/>

<circle class="r" cx="310" cy="1207" r="9"/><circle class="b" cx="315" cy="1206" r="9"/>
<circle class="r" cx="342" cy="1207" r="9"/>
<circle class="b" cx="367" cy="1206" r="9"/><circle class="b" cx="367" cy="1208" r="9"/>
<circle class="b" cx="393" cy="1207" r="9"/>
<circle class="b" cx="419" cy="1207" r="9"/>
<circle class="b" cx="446" cy="1206" r="9"/>
<circle class="r" cx="472" cy="1205" r="9"/><circle class="b" cx="472" cy="1210" r="9"/>
<circle class="b" cx="499" cy="1207" r="9"/><circle class="r" cx="523" cy="1205" r="9"/><circle class="b" cx="527" cy="1208" r="9"/>
<circle class="b" cx="553" cy="1207" r="9"/><circle class="r" cx="579" cy="1205" r="9"/>
<circle class="b" cx="606" cy="1206" r="9"/><circle class="r" cx="607" cy="1217" r="9"/>
<circle class="r" cx="632" cy="1205" r="9"/><circle class="b" cx="632" cy="1215" r="9"/>
<circle class="r" cx="658" cy="1207" r="9"/>
<circle class="r" cx="685" cy="1213" r="9"/><circle class="r" cx="690" cy="1205" r="9"/>
<circle class="r" cx="719" cy="1209" r="9"/><circle class="b" cx="716" cy="1206" r="9"/>
<circle class="b" cx="745" cy="1207" r="9"/><circle class="r" cx="743" cy="1205" r="9"/>
<circle class="b" cx="772" cy="1207" r="9"/>

<circle class="r" cx="312" cy="1241" r="9"/><circle class="b" cx="314" cy="1241" r="9"/>
<circle class="b" cx="340" cy="1242" r="9"/><circle class="r" cx="367" cy="1241" r="9"/>
<circle class="b" cx="396" cy="1240" r="9"/><circle class="r" cx="393" cy="1242" r="9"/>
<circle class="b" cx="420" cy="1241" r="9"/>
<circle class="r" cx="450" cy="1243" r="9"/><circle class="b" cx="447" cy="1241" r="9"/>
<circle class="r" cx="474" cy="1240" r="9"/><circle class="r" cx="483" cy="1247" r="9"/>
<circle class="b" cx="508" cy="1241" r="9"/>
<circle class="r" cx="537" cy="1240" r="9"/>
<circle class="b" cx="561" cy="1242" r="9"/><circle class="r" cx="590" cy="1239" r="9"/><circle class="b" cx="587" cy="1243" r="9"/>
<circle class="b" cx="614" cy="1240" r="9"/><circle class="b" cx="643" cy="1240" r="9"/><circle class="b" cx="670" cy="1242" r="9"/>
<circle class="b" cx="697" cy="1242" r="9"/><circle class="b" cx="723" cy="1240" r="9"/>
<circle class="r" cx="752" cy="1241" r="9"/>
<circle class="b" cx="781" cy="1241" r="9"/>

<circle class="r" cx="312" cy="1273" r="9"/><circle class="r" cx="337" cy="1275" r="9"/><circle class="b" cx="340" cy="1272" r="9"/>
<circle class="b" cx="367" cy="1272" r="9"/><circle class="b" cx="396" cy="1272" r="9"/>
<circle class="r" cx="422" cy="1272" r="9"/><circle class="r" cx="441" cy="1283" r="9"/>
</g>
</g>

<g id="captions">
<text class="cap" x="390" y="1391" textLength="310" lengthAdjust="spacingAndGlyphs">Disease genes</text>
<text class="cap" x="1262" y="1391" textLength="872" lengthAdjust="spacingAndGlyphs">CEU non-synonymous mutated genes</text>
</g>
</svg>
